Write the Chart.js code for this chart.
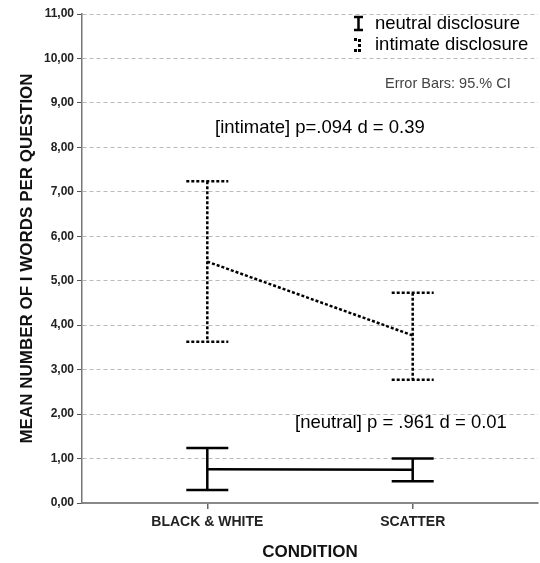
<!DOCTYPE html>
<html>
<head>
<meta charset="utf-8">
<script src="https://cdn.jsdelivr.net/npm/chart.js@4/dist/chart.umd.min.js"></script>
<style>
  html, body { margin: 0; padding: 0; background: #fff; }
  #wrap { width: 540px; height: 563px; }
</style>
</head>
<body>
<div id="wrap"><canvas id="c" width="540" height="563"></canvas></div>
<script>
// categories on the x axis
const categories = ['BLACK & WHITE', 'SCATTER'];

// means and 95% CI bounds
const neutralMean  = [0.76, 0.75];
const neutralLow   = [0.29, 0.49];
const neutralHigh  = [1.24, 1.00];
const intimateMean  = [5.43, 3.77];
const intimateLow   = [3.63, 2.77];
const intimateHigh  = [7.24, 4.73];

const yTicks = [0, 1, 2, 3, 4, 5, 6, 7, 8, 9, 10, 11];

const FONT = '"Liberation Sans", Arial, sans-serif';

// error bars for each dataset, drawn through the chart's own scales
const errorBars = {
  id: 'errorBars',
  afterDatasetsDraw(chart) {
    const { ctx, scales: { x, y } } = chart;
    const groups = [
      { low: neutralLow, high: neutralHigh, dash: [] },
      { low: intimateLow, high: intimateHigh, dash: [3, 2] }
    ];
    const cap = 21;
    ctx.save();
    ctx.strokeStyle = '#000';
    ctx.lineWidth = 2.5;
    groups.forEach(g => {
      ctx.setLineDash(g.dash);
      categories.forEach((_, i) => {
        const px = x.getPixelForValue(i);
        const top = y.getPixelForValue(g.high[i]);
        const bot = y.getPixelForValue(g.low[i]);
        ctx.beginPath();
        ctx.moveTo(px, top); ctx.lineTo(px, bot);
        ctx.moveTo(px - cap, top); ctx.lineTo(px + cap, top);
        ctx.moveTo(px - cap, bot); ctx.lineTo(px + cap, bot);
        ctx.stroke();
      });
    });
    ctx.restore();
  }
};

// legend, notes and annotations
const notes = {
  id: 'notes',
  afterDraw(chart) {
    const ctx = chart.ctx;
    ctx.save();
    ctx.fillStyle = '#000';
    ctx.textBaseline = 'middle';
    ctx.textAlign = 'left';
    ctx.font = '18.5px ' + FONT;
    ctx.fillText('neutral disclosure', 375, 24);
    ctx.fillText('intimate disclosure', 375, 45);

    // legend glyphs
    ctx.strokeStyle = '#000';
    ctx.lineWidth = 2.5;
    ctx.beginPath();
    ctx.moveTo(354, 17); ctx.lineTo(363, 17);
    ctx.moveTo(358.5, 17); ctx.lineTo(358.5, 30);
    ctx.moveTo(354, 30); ctx.lineTo(363, 30);
    ctx.stroke();
    ctx.fillRect(354, 38, 3, 3);
    ctx.fillRect(358, 39, 3, 3);
    ctx.fillRect(358, 44, 3, 3);
    ctx.fillRect(354, 49, 3, 3);
    ctx.fillRect(358, 49, 3, 3);

    ctx.fillStyle = '#444';
    ctx.font = '14.5px ' + FONT;
    ctx.fillText('Error Bars: 95.% CI', 385, 84);

    ctx.fillStyle = '#000';
    ctx.font = '18.5px ' + FONT;
    ctx.fillText('[intimate] p=.094 d = 0.39', 215, 128);
    ctx.fillText('[neutral] p = .961 d = 0.01', 295, 423);
    ctx.restore();
  }
};

new Chart(document.getElementById('c'), {
  type: 'line',
  data: {
    datasets: [
      {
        label: 'neutral disclosure',
        data: neutralMean.map((v, i) => ({ x: i, y: v })),
        borderColor: '#000',
        borderWidth: 2.5,
        pointRadius: 0,
        fill: false
      },
      {
        label: 'intimate disclosure',
        data: intimateMean.map((v, i) => ({ x: i, y: v })),
        borderColor: '#000',
        borderWidth: 2.5,
        borderDash: [3, 2],
        pointRadius: 0,
        fill: false
      }
    ]
  },
  options: {
    responsive: false,
    animation: false,
    layout: { padding: { top: 14, right: 2, left: 0, bottom: 0 } },
    plugins: { legend: { display: false }, tooltip: { enabled: false } },
    scales: {
      x: {
        type: 'linear',
        min: -0.61,
        max: 1.61,
        afterBuildTicks: (s) => { s.ticks = categories.map((_, i) => ({ value: i })); },
        afterFit: (s) => { s.height = 60; },
        ticks: {
          callback: (v) => categories[v],
          color: '#222',
          font: { family: FONT, size: 14, weight: 'bold' },
          padding: 5,
          maxRotation: 0
        },
        grid: { display: true, drawOnChartArea: false, drawTicks: true, tickLength: 6, color: '#666', lineWidth: 1.5 },
        border: { color: '#888', width: 2 },
        title: {
          display: true,
          text: 'CONDITION',
          color: '#111',
          font: { family: FONT, size: 17, weight: 'bold' },
          padding: { top: 9, bottom: 0 }
        }
      },
      y: {
        min: 0,
        max: 11,
        afterBuildTicks: (s) => { s.ticks = yTicks.map(v => ({ value: v })); },
        afterFit: (s) => { s.width = 82; },
        ticks: {
          callback: (v) => v.toFixed(2).replace('.', ','),
          color: '#222',
          font: { family: FONT, size: 12, weight: 'bold' },
          padding: 3
        },
        grid: {
          color: (c) => c.tick.value === 0 ? 'rgba(0,0,0,0)' : '#bbb',
          lineWidth: 1,
          tickLength: 5,
          tickColor: '#555',
          tickBorderDash: [],
          drawTicks: true
        },
        border: { color: '#777', width: 1.5, dash: [4, 3] },
        title: {
          display: true,
          text: 'MEAN NUMBER OF I WORDS PER QUESTION',
          color: '#111',
          font: { family: FONT, size: 17, weight: 'bold' },
          padding: { bottom: 0, top: 17 }
        }
      }
    }
  },
  plugins: [errorBars, notes]
});
</script>
</body>
</html>
